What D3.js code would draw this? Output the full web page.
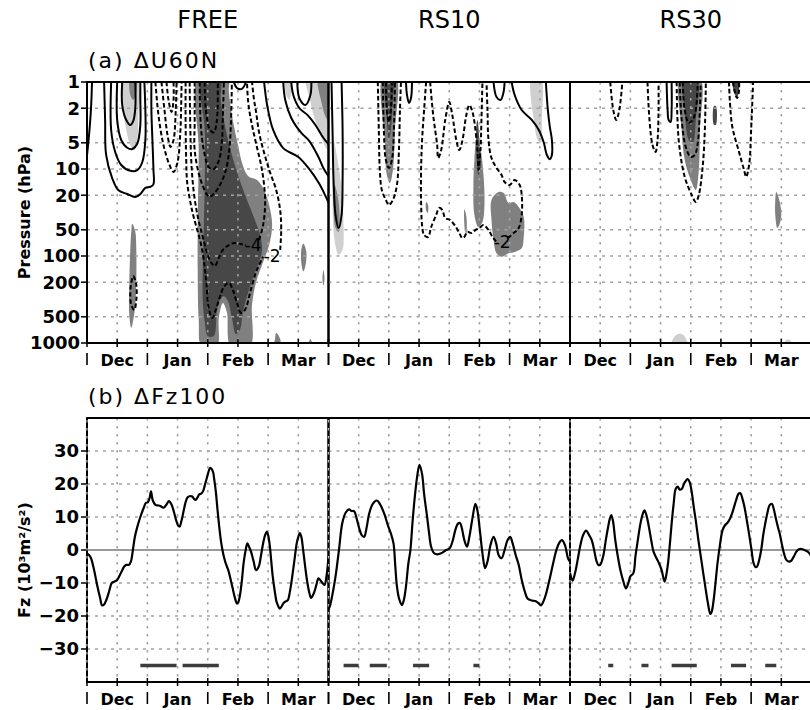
<!DOCTYPE html>
<html><head><meta charset="utf-8">
<script src="https://cdn.jsdelivr.net/npm/d3@7"></script>
<style>body{margin:0;background:#fff}svg{display:block}</style>
</head><body>
<svg id="chart" width="810" height="710"></svg>
<script>
// ---------------- DATA ----------------
const panelNames = ["FREE", "RS10", "RS30"];
const months = ["Dec", "Jan", "Feb", "Mar"];
const monthStartDays = [0, 30, 60, 90, 120];
const gridDays = [15, 30, 45, 60, 75, 90, 105];
const pressureTicks = [1, 2, 5, 10, 20, 50, 100, 200, 500, 1000];
const fzTicks = [-30, -20, -10, 0, 10, 20, 30];

// (b) Fz100 differences  [day, value]
const fzFREE = [[0,-1],[1,-1.5],[2,-2.5],[3.5,-6],[5,-10.5],[6.5,-14.5],[7.5,-16.8],[8.5,-16.5],[9.7,-15],[11,-12.5],[12.3,-10],[13.5,-9.6],[14.8,-9.2],[16,-8],[17.2,-6.5],[18.5,-5],[19.5,-4.5],[20.8,-4.5],[21.8,-3.5],[22.8,0],[23.8,4],[25,7],[26.5,10],[28,12.5],[29.3,14.3],[30.3,14.5],[31.2,16],[31.8,17.8],[32.7,15],[34,13.7],[35.5,13.5],[36.5,13.3],[38,12.8],[39.5,13.8],[40.7,14.8],[42,13.8],[43.2,11.5],[44.3,9],[45.3,7.4],[46,7.1],[47,9],[47.8,11.2],[49,14.5],[50,16],[51,16.3],[52.3,16.2],[53.3,15.4],[54,15.2],[55,16],[55.7,16.8],[57,17.2],[57.8,18],[58.5,19.5],[59.3,21.3],[60.3,23.5],[61.2,24.9],[62.5,23.9],[63.3,21],[64,17.8],[64.8,12.5],[65.7,7.1],[66.5,3],[67.3,0],[68,-2],[68.7,-3.6],[69.5,-5],[70.2,-6.1],[71.2,-8.5],[72.3,-11.4],[73.5,-14.5],[74.5,-16.2],[75.2,-15.8],[76,-13.7],[77,-9],[77.7,-4.6],[78.7,-0.5],[79.7,2],[80.5,1],[81.5,-0.5],[82.8,-3.5],[84,-6.1],[85.3,-5.1],[86.5,-1.5],[87.5,2],[88.5,4.5],[89.3,5.6],[90,4.5],[90.8,1.5],[91.5,-3],[92.3,-8.1],[93.3,-12.5],[94.2,-15.7],[95,-17],[95.8,-17.8],[96.8,-17],[97.8,-16],[99,-15.5],[99.8,-15.2],[101,-12],[102.3,-6.6],[103.3,-2],[104.2,2],[105,4],[105.7,5.1],[106.5,4],[107.3,0.5],[108.3,-4.5],[109.3,-9.1],[110.3,-12.5],[111.3,-14.5],[112,-14],[113,-12.6],[114,-10.5],[115,-8.6],[116,-9.2],[117,-10],[118,-10.6],[119,-8],[120,-2]];
const fzRS10 = [[0,-18],[0.7,-17],[1.8,-14],[3.5,-8],[5.2,0],[6.8,8],[8.5,11.3],[10.2,12.3],[11.5,11.8],[12.7,11.8],[14,9.5],[15.3,6.5],[16.5,4.5],[17.7,4],[19,7],[20.2,11],[22,14],[24,15],[25.5,14],[27.7,11],[29.5,7.5],[31,5],[32.3,2],[33.2,-5],[34,-11],[35.2,-15],[36.5,-16.7],[37.5,-15],[38.5,-11],[39.7,-4],[40.7,0],[41.7,8],[42.7,15],[44,22],[45.2,25.8],[46.5,23],[47.5,17],[49,10],[50,5],[51,1],[52.5,-1],[54,-1.3],[56,-1],[58.5,0],[60.2,0.5],[61.8,3],[63,6],[64.3,8],[65.3,8.2],[66.3,6.5],[67.5,3],[68.8,1],[70,4],[71.5,9.5],[73,14],[74,12],[75.2,6],[76.5,-1],[77.8,-5.5],[79,-3.5],[80.5,1.5],[82,4],[83.3,2],[84.5,-1.5],[86,-2.5],[87.5,0],[89,3],[90.3,4],[91.5,2],[93,-1.5],[94.5,-4.5],[96,-9],[97.5,-12.5],[99,-14.8],[101,-15.3],[103,-15.5],[104.5,-16.2],[105.5,-16.8],[106.5,-16],[108,-13.5],[110,-8.5],[112,-3],[113.5,0.5],[115,2.5],[116,3],[117.5,1.5],[119,-2.5],[120,-3.5]];
const fzRS30 = [[0,-7],[1.3,-9.3],[2.5,-7],[3.8,-3],[5,1],[6.5,4.5],[8,5.9],[9.5,4.5],[10.8,3],[12,0],[13,-3],[14,-4.5],[15,-4.5],[16,-3],[16.8,-1],[17.8,3],[18.8,6.5],[19.8,9.5],[20.5,10.6],[21.3,9],[22.5,3],[23.5,-1],[25,-6],[26.5,-9.5],[27.8,-11.6],[29,-10],[30,-8],[31.5,-7],[32.5,-2],[33.7,3],[35,8],[36.2,11],[37,12],[38,10.5],[39.2,7],[40.5,2.5],[41.5,-0.5],[43,-2.5],[44.2,-4],[45.5,-6],[47,-9.6],[48,-7],[48.8,-3.5],[49.8,3],[50.5,8],[51.5,14],[52.5,18.5],[53.5,19.2],[54.5,18.3],[55.5,18.5],[57,20.5],[58.5,21.5],[59.5,20.5],[60.5,17.5],[61.5,13],[62.5,9],[63.8,3],[65,-2],[66.2,-7],[67.2,-11],[68.5,-16],[69.7,-19.4],[70.5,-18.5],[71.3,-15.5],[72.3,-10],[73.3,-4],[74.5,1.5],[75.8,6],[77,7.5],[78.3,8.3],[79.5,9.5],[80.5,11],[81.5,13],[82.5,15],[83.7,17],[84.7,17.2],[85.7,15.5],[86.7,13],[88,8.5],[89.2,4],[90.2,0],[91.2,-4],[92.2,-5.2],[93,-5],[94,-3],[95,0],[96,4.5],[97,8],[98,11],[99.2,13.6],[100.3,14],[101.2,12.5],[102.5,9],[103.5,6.5],[104.2,5],[105.2,2],[106.3,-1],[107.5,-3],[108.8,-3.5],[110,-3.2],[111.2,-2],[112.5,-0.5],[113.7,0.2],[115,0.3],[116.5,0],[118.3,-0.6],[120,-2]];

// significant periods [startDay, endDay]
const sigFREE = [[26.5,44.5],[47.5,65.5]];
const sigRS10 = [[7.5,15],[20.5,29],[42,50],[72,75]];
const sigRS30 = [[19,21.5],[35.5,39],[50.5,63],[80,87.5],[97,102.5]];
const sigLevel = -35;

// (a) U60N difference: traced contours [day, hPa]
const posFREE = [
 [[2.5,1],[2,2],[1,4.1],[-0.5,9]],
 [[8.5,1],[9,2.73],[9.5,6.9],[12.5,12.7],[15.5,17.4],[20,19.4],[24,21],[26.5,19.4],[29,16.5],[31.5,16],[33,15],[33,10],[32.5,4.64],[32,2.1],[32,1]],
 [[12,1],[12,3.56],[14,6.37],[17,8.99],[21.5,10.5],[25,10.3],[27.5,8.31],[29,4.64],[29,2.1],[28.5,1]],
 [[15,1],[15,2.73],[17,4.64],[20,5.7],[22.5,5.9],[25,5.1],[26.5,3.12],[26.5,1.61],[26.5,1]],
 [[17.5,1],[17.5,1.84],[19.5,2.73],[21.5,3.12],[23,2.8],[24,1.99],[24,1]],
 [[73,1],[74.5,1.17],[77,1.2],[79,1]],
 [[88,1],[89.5,1.84],[92.5,3.56],[97.5,5.75],[105,7.28],[110,9.73],[115.5,14.9],[119,21.6],[121,27]],
 [[97.5,1],[98.5,1.61],[101.5,2.59],[106.5,3.85],[110.5,4.77],[115,7.28],[118,10.3],[121,13]],
 [[101.5,1],[102.5,1.41],[105.5,1.99],[109.5,2.39],[113.5,3.12],[117.5,4.4],[121,5.5]],
 [[104.5,1],[105.5,1.53],[108.5,1.84],[111,1.41],[111.5,1]]
];
const negFREE = [
 [[34,1],[35.5,2.39],[38,5.3],[41,8.99],[43,10.8],[45,8.31],[46.3,4.06],[46.8,1.84],[47,1]],
 [[37,1],[38.5,2.1],[40,4.06],[41.5,5.58],[43,4.64],[44,2.39],[44.5,1]],
 [[39.5,1],[40.5,1.61],[42,2.21],[43,1.61],[43,1]],
 [[49,1],[49,3],[49.3,8],[49.8,14.5],[51.5,25],[53,35.6],[56.5,70.8],[58,111],[59.3,200],[60.5,400],[62.3,516],[64,416],[66,296],[68,227],[70.5,204],[72.5,246],[74.5,346],[76.5,449],[78.5,416],[81,266],[84,153],[87.5,102]],
 [[96,85],[96.5,50],[96,30],[94,17.4],[91,11],[88,6.5],[85.5,3.8],[84,2.2],[83,1.6],[82,1]],
 [[51,1],[51.3,3],[51.8,8],[53,18],[55,35],[57.5,60],[59.5,90],[61.5,117],[63.5,130],[65.5,105],[67.5,85.2],[70,76.3],[73,70.8],[76.5,73],[79,74.7]],
 [[85.5,65.5],[87.5,44.1],[88.5,25.9],[88,15.3],[86.5,8.99],[84.5,5.7],[82.5,3.56],[81,2.39],[80,1.61],[79.5,1]],
 [[53.5,1],[53.5,3],[53.5,6.05],[56.5,13.4],[60.7,20.8],[63.2,19.1],[66.5,14.6],[69,10.3],[70.7,6.05],[71.5,3],[72,1]],
 [[56,1],[56.5,3],[58,6],[60.5,9.5],[63,10],[65.5,8],[67,5],[67.5,2.5],[68,1]],
 [[58.5,1],[59,2],[61,3.5],[63,3.8],[64.5,2.8],[65,1]]
];
const loopsFREE = [[[22,204],[23,170],[24.5,215],[24.5,320],[23.5,416],[22,365],[21.5,260]]];
const lightFREE = [
 [[18,0.9],[18,2.1],[19.5,3.56],[21.5,5.3],[23.5,6.05],[25,4.64],[25.5,2.4],[25.5,0.9]],
 [[109,0.9],[110.5,1.5],[113,2.6],[116,4],[119,5.8],[122,6.5],[122,0.9]],
 [[98.5,0.9],[99,1.4],[100.5,1.6],[101.5,1.3],[101.5,0.9]]
];
const midFREE = [
 [[21.5,0.9],[21.5,1.41],[23,1.61],[24.5,1.3],[24.5,0.9]],
 [[115,0.9],[116.5,1.7],[118.5,2.5],[122,3.3],[122,0.9]],
 [[55.5,0.9],[55.5,6],[55,54],[55,145],[55.5,540],[57,1100],[64.5,1100],[65.5,512],[67.5,346],[69.5,440],[71.5,1100],[81,1100],[82,365],[84,200],[87.5,117],[90.5,75],[92,44],[90.5,26],[88,17.4],[84.5,13.4],[80,12],[77.5,9.2],[75,5.3],[72,2.4],[70.5,1.3],[70,0.9]],
 [[22.5,42.7],[24,52.8],[24.5,85],[24.5,189],[24,365],[23,540],[22,670],[21,474],[21,215],[21.5,85],[22,52.8]],
 [[107.5,72],[109,90],[108.5,130],[107.5,150],[106.5,120],[106.5,85]],
 [[117.5,145],[118,180],[117.5,220],[117,180]],
 [[94,760],[96,900],[96,1100],[93,1100],[93.5,880]],
 [[111,900],[112,1100],[110,1100]]
];
const darkFREE = [
 [[57,0.9],[58.5,3.56],[58.5,13.4],[58,50.3],[57.5,145],[57.5,320],[58.5,574],[60,830],[63,830],[64.5,440],[66,320],[68,290],[70,330],[72,516],[74,790],[76,703],[77.5,440],[80,266],[83,165],[85.5,117],[87,85],[86,57],[82.5,34],[78,18.4],[73,8.3],[69,3.56],[66.5,1.61],[66,0.9]]
];
const labelsFREE = [{t:"-4", d:82.5, p:75}, {t:"-2", d:92, p:100}];

const posRS10 = [
 [[1.5,1],[2,3.56],[2.5,13.4],[3.5,33.8],[5,47.7],[6.5,33.8],[7,13.4],[7,3.56],[6.5,1]],
 [[38.5,1],[39,1.41],[40,1.74],[41,1.53],[41.5,1]],
 [[82,1],[83.5,1.49],[85.5,1.61],[87,1.3],[87.5,1]],
 [[91,1],[92.5,1.41],[96,2.1],[101,2.73],[104.5,3.56],[107,5],[108.5,6.9],[110,7.7],[111,6.9],[111,4.64],[110,3.3],[109,2.1],[108,1]]
];
const negRS10 = [
 [[24.5,1],[25,3.56],[25.5,10.3],[26.5,17.4],[28.5,22.7],[30,25.9],[32,22.7],[34,15.3],[35,6.05],[35.5,2.1],[36,1]],
 [[27,1],[27.5,3.56],[28.5,7.88],[30,9.73],[31.5,7.88],[32.5,3.56],[33,1]],
 [[28.5,1],[29,2.1],[30,2.88],[31,2.1],[31.5,1]],
 [[48.5,1],[47.5,2.1],[46.5,4.64],[46,10.3],[46,22.7],[46.5,44.1],[47.5,57.4],[49.5,60.5],[51,46.5],[53.5,33.8],[55,28],[56.5,29.5],[58,36.6],[60.5,38.6],[63,45.3],[65,54.4],[66.5,62.3],[67.5,60.5],[69,52.8],[71,54.4],[73,50.3],[75,47.7],[77,44.1],[79.5,50.3],[81.5,60.5],[83.3,68]],
 [[89,62.3],[92,54.4],[94.5,47.7],[96,33.8],[96,19.9],[95,15.3],[92.5,13.4],[90,15.3],[87.5,14.1],[86,11.7],[83.5,9.73],[81,7.48],[79.5,4.64],[79,2.1],[78.5,1]],
 [[50.5,1],[52,2.39],[54,5.3],[54.5,7.48],[56,6.05],[58,2.73],[60,1.7],[61.5,2.39],[63.5,4.64],[65,6.05],[66.5,4.75],[68.5,2.39],[70,1.84],[71.5,2.2],[72.5,2.88],[74,6.05],[74.5,10.3],[75.5,6.05],[76,2.73],[76.5,1]]
];
const loopsRS10 = [];
const lightRS10 = [
 [[2.5,4.64],[4.5,7.88],[6.5,17.4],[7.5,50],[7,85],[5,97],[3,65.5],[2,22.7],[2,7.88]],
 [[101,0.9],[102,2.73],[104,4.64],[105.5,5],[106,2.73],[105.5,0.9]]
];
const midRS10 = [
 [[3,15.3],[4.5,19.9],[5.5,33.8],[5,53],[3.5,47.7],[2.5,29.5],[2.5,19.9]],
 [[27,0.9],[28,4.64],[29,11.7],[30.5,14.5],[32,10.3],[33,3.56],[33.5,0.9]],
 [[73.5,4.64],[75.5,6.05],[77,11.7],[77.5,25.9],[76.5,40.7],[74.5,46.5],[72.5,33.8],[72,15.3],[72.5,7.88]],
 [[81,22.7],[84.5,18.4],[87,18.9],[89.5,24.6],[92,24],[94.5,27.3],[97,35.7],[97,60.5],[96,81.6],[92.5,90],[89.5,93],[86,102],[83.5,93],[82,65.5],[81,38.6]],
 [[67.5,29],[68.5,35],[68.5,57],[67.8,50]],
 [[48.5,24],[49.5,26],[49.3,32],[48.5,30]]
];
const darkRS10 = [
 [[28.5,0.9],[29,2.73],[30,4.64],[31,3.56],[32,1.61],[32,0.9]],
 [[74,2.73],[75,4.64],[75.5,10.3],[74.5,11.7],[73.5,6.05],[73.5,3.12]]
];
const labelsRS10 = [{t:"-2", d:86.3, p:68}];

const posRS30 = [
 [[48,1],[48.5,2.1],[49,2.73],[50,2.88],[50.5,2.1],[50.5,1]]
];
const negRS30 = [
 [[20,1],[21.5,2.1],[23,2.73],[24.5,2.1],[26,1]],
 [[38.5,1],[39.5,2.73],[41,5.3],[42.5,6.37],[43.5,4.64],[44,2.1],[44,1]],
 [[53,1],[54,4.64],[57,12.3],[60.5,19.9],[62.5,23.9],[64,19.9],[66,8.99],[67,3.56],[67.5,1]],
 [[54.5,1],[55.5,2.73],[57.5,5.58],[60,7.28],[62,6.9],[63.5,5],[64.5,2.1],[65,1]],
 [[56,1],[57,2.1],[59,2.96],[61,2.73],[62.5,2.1],[63.5,1]],
 [[79,1],[80.5,3.12],[84,6.37],[86.5,10.3],[87.5,12.3],[89,8.99],[90,3.56],[91,1]],
 [[81,1],[82,1.34],[83,1.53],[84,1.26],[84,1]]
];
const loopsRS30 = [];
const lightRS30 = [
 [[51,914],[53,801],[55.5,790],[57.5,880],[58.5,1100],[50,1100]],
 [[106.5,1100],[107.5,920],[109.5,930],[110,1100]]
];
const midRS30 = [
 [[55,0.9],[55.5,3.56],[57,7.88],[60,13.4],[62.5,17.4],[64,10.3],[64.5,3.56],[64.5,0.9]],
 [[102.5,18.4],[104,22.7],[105,33.8],[104,44.1],[103,47.7],[102,33.8],[102,22.7]]
];
const darkRS30 = [
 [[56.5,0.9],[57,2.1],[59,4.64],[61,5],[62.5,2.73],[63,0.9]],
 [[71.5,1.9],[72.5,1.9],[72.5,3.1],[71.5,3.1]],
 [[81,0.9],[81.5,1.3],[83,1.5],[84,1.2],[84,0.9]]
];
const labelsRS30 = [];

// ---------------- DRAW ----------------
const panels = [
 {name:panelNames[0], fz:fzFREE, sig:sigFREE, pos:posFREE, neg:negFREE, loops:loopsFREE, light:lightFREE, mid:midFREE, dark:darkFREE, labels:labelsFREE},
 {name:panelNames[1], fz:fzRS10, sig:sigRS10, pos:posRS10, neg:negRS10, loops:loopsRS10, light:lightRS10, mid:midRS10, dark:darkRS10, labels:labelsRS10},
 {name:panelNames[2], fz:fzRS30, sig:sigRS30, pos:posRS30, neg:negRS30, loops:loopsRS30, light:lightRS30, mid:midRS30, dark:darkRS30, labels:labelsRS30}
];

const FONT = "'DejaVu Sans', sans-serif";
const LEFT = 87, PW = 241.5;
const A = {top: 82, bot: 343}, B = {top: 418, bot: 682};
const C = {light: "#cfcfcf", mid: "#808080", dark: "#474747", grid: "#a3a3a3"};

const svg = d3.select("#chart");
const defs = svg.append("defs");
const yP = d3.scaleLog().domain([1, 1000]).range([A.top, A.bot]);
const yF = d3.scaleLinear().domain([-40, 40]).range([B.bot, B.top]);

// row labels
svg.append("text").attr("x", 88).attr("y", 68).style("font", `22px ${FONT}`).attr("letter-spacing", "2px").text("(a) \u0394U60N");
svg.append("text").attr("x", 88).attr("y", 404).style("font", `22px ${FONT}`).attr("letter-spacing", "2px").text("(b) \u0394Fz100");

// y axes titles
svg.append("text").attr("transform", `translate(24,${(A.top + A.bot) / 2}) rotate(-90)`)
  .attr("text-anchor", "middle").attr("dy", "0.35em").style("font", `bold 16px ${FONT}`).text("Pressure (hPa)");
svg.append("text").attr("transform", `translate(24,${(B.top + B.bot) / 2 + 10}) rotate(-90)`)
  .attr("text-anchor", "middle").attr("dy", "0.35em").style("font", `bold 16px ${FONT}`).text("Fz (10\u00B3m\u00B2/s\u00B2)");

// y axes (left)
const gya = svg.append("g");
pressureTicks.forEach(p => {
  gya.append("line").attr("x1", LEFT - 6).attr("x2", LEFT).attr("y1", yP(p)).attr("y2", yP(p)).attr("stroke", "#000").attr("stroke-width", 1.5);
  gya.append("text").attr("x", LEFT - 7).attr("y", yP(p)).attr("dy", "0.36em").attr("text-anchor", "end")
    .style("font", `bold 18px ${FONT}`).text(p);
});
fzTicks.forEach(v => {
  gya.append("line").attr("x1", LEFT - 6).attr("x2", LEFT).attr("y1", yF(v)).attr("y2", yF(v)).attr("stroke", "#000").attr("stroke-width", 1.5);
  gya.append("text").attr("x", LEFT - 8).attr("y", yF(v)).attr("dy", "0.36em").attr("text-anchor", "end")
    .style("font", `bold 18px ${FONT}`).text(v < 0 ? "\u2212" + Math.abs(v) : v);
});

panels.forEach((pd, i) => {
  const x = d3.scaleLinear().domain([0, 120]).range([LEFT + i * PW, LEFT + (i + 1) * PW]);
  const x0 = x(0), x1 = x(120);

  svg.append("text").attr("x", (x0 + x1) / 2).attr("y", 28).attr("text-anchor", "middle")
    .style("font", `24px ${FONT}`).text(pd.name);

  defs.append("clipPath").attr("id", "ca" + i).append("rect")
    .attr("x", x0).attr("y", A.top).attr("width", PW).attr("height", A.bot - A.top);
  defs.append("clipPath").attr("id", "cb" + i).append("rect")
    .attr("x", x0).attr("y", B.top).attr("width", PW).attr("height", B.bot - B.top);

  // ---- panel (a)
  const ga = svg.append("g").attr("clip-path", `url(#ca${i})`);
  const shape = d3.line().x(d => x(d[0])).y(d => yP(d[1])).curve(d3.curveCatmullRomClosed.alpha(0.5));
  const cline = d3.line().x(d => x(d[0])).y(d => yP(d[1])).curve(d3.curveCatmullRom.alpha(0.5));

  [["light", C.light], ["mid", C.mid], ["dark", C.dark]].forEach(([k, col]) => {
    ga.selectAll(null).data(pd[k]).join("path").attr("d", shape).attr("fill", col);
  });
  pressureTicks.slice(1, -1).forEach(p => {
    ga.append("line").attr("x1", x0).attr("x2", x1).attr("y1", yP(p)).attr("y2", yP(p))
      .attr("stroke", C.grid).attr("stroke-width", 1.6).attr("stroke-dasharray", "3,5");
  });
  gridDays.forEach(d => {
    ga.append("line").attr("x1", x(d)).attr("x2", x(d)).attr("y1", A.top).attr("y2", A.bot)
      .attr("stroke", C.grid).attr("stroke-width", 1.6).attr("stroke-dasharray", "2.5,5.5");
  });
  ga.selectAll(null).data(pd.pos).join("path").attr("d", cline)
    .attr("fill", "none").attr("stroke", "#000").attr("stroke-width", 2);
  ga.selectAll(null).data(pd.neg).join("path").attr("d", cline)
    .attr("fill", "none").attr("stroke", "#000").attr("stroke-width", 2).attr("stroke-dasharray", "4.5,2.5");
  ga.selectAll(null).data(pd.loops).join("path").attr("d", shape)
    .attr("fill", "none").attr("stroke", "#000").attr("stroke-width", 2).attr("stroke-dasharray", "4.5,2.5");
  ga.selectAll(null).data(pd.labels).join("text")
    .attr("x", d => x(d.d)).attr("y", d => yP(d.p)).attr("dy", "0.36em").attr("text-anchor", "middle")
    .style("font", `17px ${FONT}`).text(d => d.t);

  svg.append("rect").attr("x", x0).attr("y", A.top).attr("width", PW).attr("height", A.bot - A.top)
    .attr("fill", "none").attr("stroke", "#000").attr("stroke-width", 2);

  // ---- panel (b)
  const gb = svg.append("g").attr("clip-path", `url(#cb${i})`);
  fzTicks.filter(v => v !== 0).forEach(v => {
    gb.append("line").attr("x1", x0).attr("x2", x1).attr("y1", yF(v)).attr("y2", yF(v))
      .attr("stroke", C.grid).attr("stroke-width", 1.6).attr("stroke-dasharray", "3,5");
  });
  gridDays.forEach(d => {
    gb.append("line").attr("x1", x(d)).attr("x2", x(d)).attr("y1", B.top).attr("y2", B.bot)
      .attr("stroke", C.grid).attr("stroke-width", 1.6).attr("stroke-dasharray", "2.5,5.5");
  });
  gb.append("line").attr("x1", x0).attr("x2", x1).attr("y1", yF(0)).attr("y2", yF(0))
    .attr("stroke", "#9a9a9a").attr("stroke-width", 2);

  svg.append("rect").attr("x", x0).attr("y", B.top).attr("width", PW).attr("height", B.bot - B.top)
    .attr("fill", "none").attr("stroke", "#000").attr("stroke-width", 2);
  [0, 120].forEach(d => {
    svg.append("line").attr("x1", x(d)).attr("x2", x(d)).attr("y1", B.top + 2).attr("y2", B.bot - 2)
      .attr("stroke", "#b5b5b5").attr("stroke-width", 1.2).attr("stroke-dasharray", "2.5,5.5");
  });

  const gb2 = svg.append("g").attr("clip-path", `url(#cb${i})`);
  gb2.append("path").datum(pd.fz)
    .attr("d", d3.line().x(d => x(d[0])).y(d => yF(d[1])).curve(d3.curveCatmullRom.alpha(0.5)))
    .attr("fill", "none").attr("stroke", "#000").attr("stroke-width", 2.2);
  gb2.selectAll(null).data(pd.sig).join("line")
    .attr("x1", d => x(d[0])).attr("x2", d => x(d[1])).attr("y1", yF(sigLevel)).attr("y2", yF(sigLevel))
    .attr("stroke", "#3c3c3c").attr("stroke-width", 3.5);

  // ---- x axes (both rows)
  [A.bot, B.bot].forEach(yb => {
    const g = svg.append("g");
    d3.range(0, 121, 15).forEach(d => {
      g.append("line").attr("x1", x(d)).attr("x2", x(d)).attr("y1", yb - 4).attr("y2", yb + 4)
        .attr("stroke", "#000").attr("stroke-width", 1.5);
    });
    monthStartDays.forEach(d => {
      g.append("line").attr("x1", x(d)).attr("x2", x(d)).attr("y1", yb + 10).attr("y2", yb + 22)
        .attr("stroke", "#000").attr("stroke-width", 1.6);
    });
    months.forEach((m, k) => {
      g.append("text").attr("x", x((monthStartDays[k] + monthStartDays[k + 1]) / 2)).attr("y", yb + 23)
        .attr("text-anchor", "middle").style("font", `bold 16px ${FONT}`).text(m);
    });
  });
});
</script>
</body></html>
